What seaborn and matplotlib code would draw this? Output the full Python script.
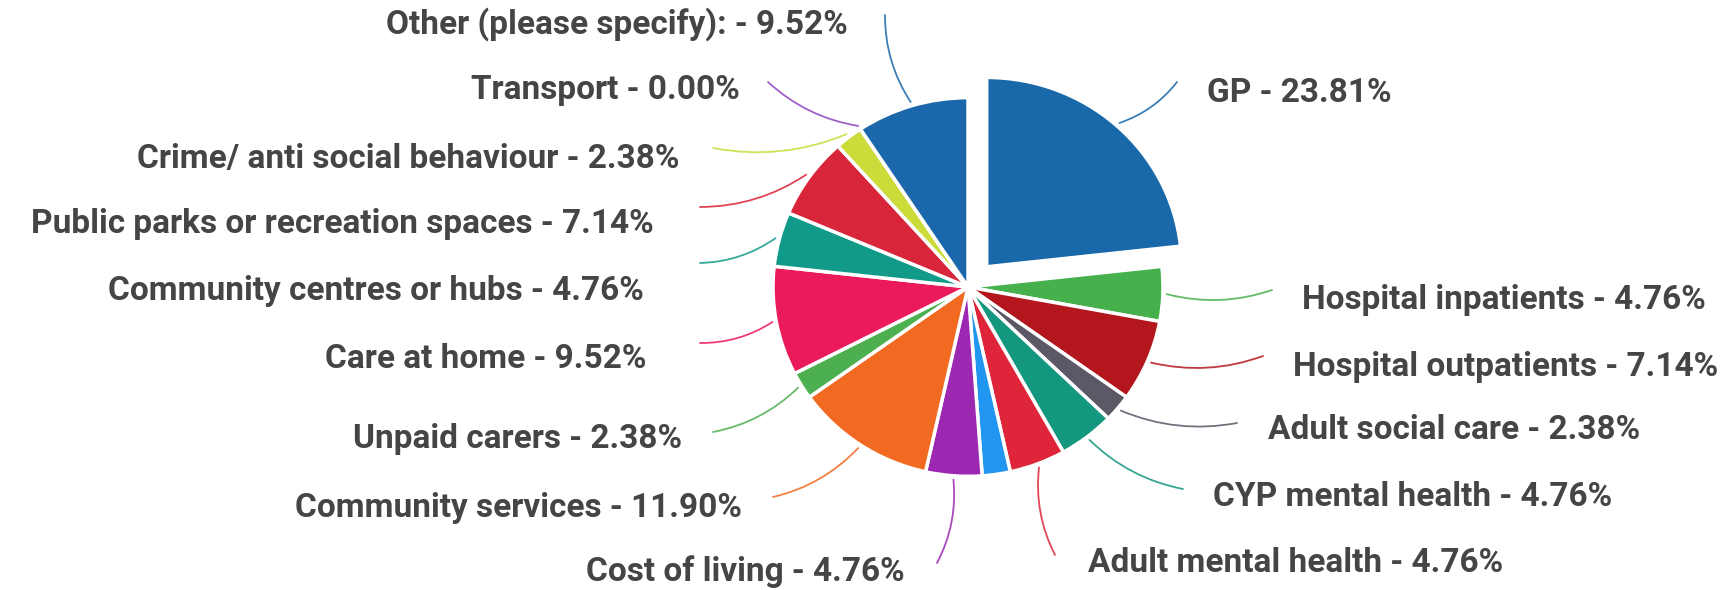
import numpy as np
import matplotlib
matplotlib.use("Agg")
import matplotlib.pyplot as plt
import seaborn as sns

# categories clockwise from 12 o'clock
categories = ["GP", "Hospital inpatients", "Hospital outpatients", "Adult social care",
              "CYP mental health", "Adult mental health", "", "Cost of living",
              "Community services", "Unpaid carers", "Care at home",
              "Community centres or hubs", "Public parks or recreation spaces",
              "Crime/ anti social behaviour", "Transport", "Other (please specify):"]
percents = [23.81, 4.76, 7.14, 2.38, 4.76, 4.76, 2.38, 4.76,
            11.90, 2.38, 9.52, 4.76, 7.14, 2.38, 0.00, 9.52]
colors = ["#1868aa", "#45b04c", "#b3171d", "#5d5866", "#13977f", "#df2539", "#2196f0", "#9c28b1",
          "#f26a22", "#4caf50", "#eb1a5b", "#129a89", "#d82539", "#cbdc3a", "#8e44c0", "#1a68ab"]

# label layout in picture pixels (x, y from top, ha) and leader line end
label_pos = [(1207, 93, "left"), (1302, 300, "left"), (1293, 367, "left"), (1268, 430, "left"),
             (1213, 497, "left"), (1088, 563, "left"), None, (905, 572, "right"),
             (742, 508, "right"), (682, 439, "right"), (646, 359, "right"),
             (644, 291, "right"), (654, 224, "right"), (679, 159, "right"),
             (740, 90, "right"), (848, 24, "right")]
line_end = [(1177, 82), (1272, 290), (1263, 356), (1237, 423),
            (1183, 489), (1055, 555), None, (937, 563),
            (773, 497), (713, 432), (700, 343),
            (700, 263), (700, 207), (713, 148),
            (768, 82), (885, 15)]

W, H = 1731, 590
S = 1.03  # the original picture is a little wider than tall


def to_data(x, y):
    return x, (H - y) * S


sns.set_theme(style="white")
plt.rcParams["font.family"] = ["Roboto", "DejaVu Sans"]

fig = plt.figure(figsize=(W / 100, H / 100), dpi=100)
ax = fig.add_axes([0, 0, 1, 1])

explode = [28 if c == "GP" else 0 for c in categories]
wedges, _ = ax.pie(percents, colors=colors, startangle=90, counterclock=False,
                   explode=explode, radius=195, center=to_data(968, 287),
                   wedgeprops=dict(edgecolor="white", linewidth=2.5))

for i, w in enumerate(wedges):
    if label_pos[i] is None:
        continue
    mid = np.deg2rad((w.theta1 + w.theta2) / 2)
    cx, cy = w.center
    start = (cx + w.r * 1.02 * np.cos(mid), cy + w.r * 1.02 * np.sin(mid))
    lx, ly, ha = label_pos[i]
    rad = 0.15 if ha == "right" else -0.15
    ax.annotate("", xy=start, xytext=to_data(*line_end[i]),
                arrowprops=dict(arrowstyle="-", color=colors[i], lw=1.3, alpha=0.85,
                                shrinkA=0, shrinkB=0,
                                connectionstyle=f"arc3,rad={rad}"))
    ax.text(*to_data(lx, ly), f"{categories[i]} - {percents[i]:.2f}%", ha=ha, va="center",
            fontsize=24, fontweight="bold", color="#454545")

ax.set_aspect("auto")
ax.set_xlim(0, W)
ax.set_ylim(0, H * S)
ax.axis("off")
fig.savefig("out.png", dpi=100, facecolor="white")
